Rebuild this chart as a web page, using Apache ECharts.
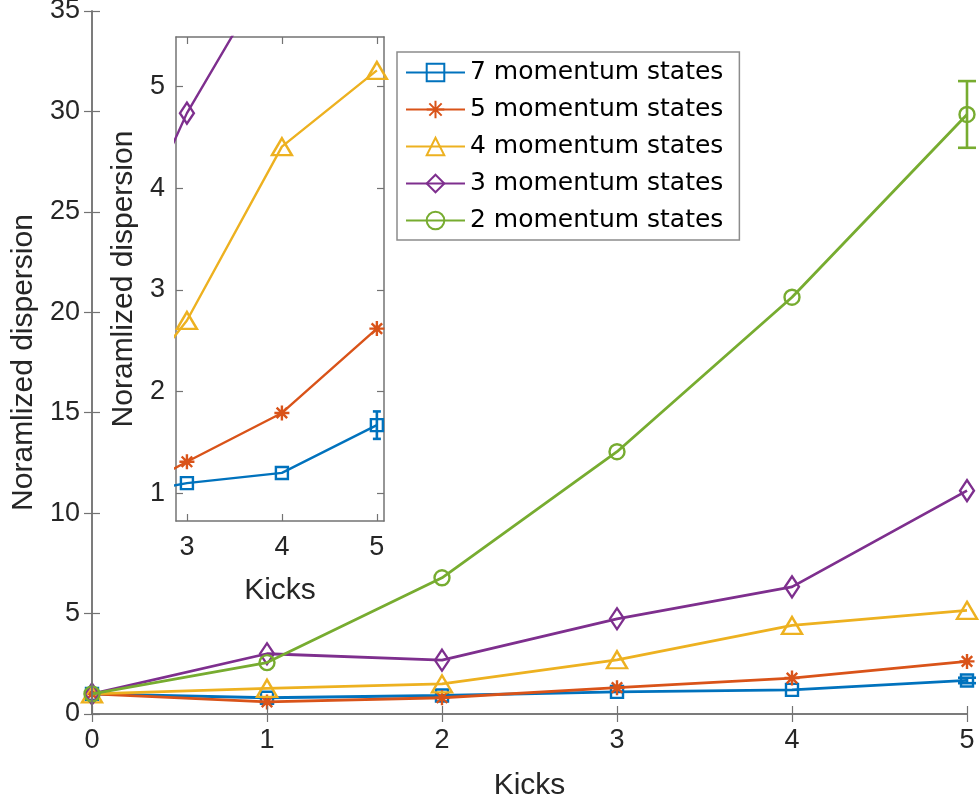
<!DOCTYPE html>
<html>
<head>
<meta charset="utf-8">
<script src="https://cdn.jsdelivr.net/npm/echarts@6/dist/echarts.min.js"></script>
<style>html,body{margin:0;padding:0;background:#fff}#c{width:979px;height:803px}</style>
</head>
<body>
<div id="c"></div>
<script>
// ---- data ----
var kicks = [0, 1, 2, 3, 4, 5];
var seriesNames = ['7 momentum states', '5 momentum states', '4 momentum states', '3 momentum states', '2 momentum states'];
var s7 = [1.0, 0.81, 0.92, 1.10, 1.20, 1.67];
var s5 = [1.0, 0.60, 0.81, 1.31, 1.79, 2.62];
var s4 = [1.0, 1.28, 1.50, 2.70, 4.41, 5.16];
var s3 = [1.0, 3.00, 2.68, 4.74, 6.33, 11.12];
var s2 = [1.0, 2.56, 6.78, 13.06, 20.75, 29.85];
var err7 = [0, 0, 0, 0, 0, 0.135];
var err2 = [0, 0, 0, 0, 0, 1.66];
var insetXTicks = [3, 4, 5];
var insetYTicks = [1, 2, 3, 4, 5];

// ---- style ----
var FONT = 'Liberation Sans';
var LFONT = 'DejaVu Sans';
var TXT = '#262626';
var AX = '#737373';
var colors = ['#0072BD', '#D95319', '#EDB120', '#7E2F8E', '#77AC30'];
var star = 'path://M10,0L10,20M0,10L20,10M3,3L17,17M3,17L17,3';
var symbols = ['rect', star, 'triangle', 'diamond', 'circle'];
var symSizes = [[12, 12], [15, 15], [20, 17], [14, 21], [15, 15]];
var allData = [s7, s5, s4, s3, s2];
var allErr = [err7, null, null, null, err2];
var TICKFS = 27, NAMEFS = 30;

function pairs(arr) { return kicks.map(function (k, i) { return [k, arr[i]]; }); }
function errPairs(arr, err) {
  var out = [];
  kicks.forEach(function (k, i) { if (err[i] > 0) out.push([k, arr[i] - err[i], arr[i] + err[i]]); });
  return out;
}

function axisCommon(extra) {
  var a = {
    axisLine: { show: true, lineStyle: { color: AX, width: 1.5 } },
    axisTick: { show: true, inside: true, length: 8, lineStyle: { color: AX, width: 1.2 } },
    splitLine: { show: false },
    axisLabel: { color: TXT, fontFamily: FONT, fontSize: TICKFS },
    nameTextStyle: { color: TXT, fontFamily: FONT, fontSize: NAMEFS }
  };
  for (var k in extra) a[k] = extra[k];
  return a;
}

var series = [];
function addSet(xi, yi, lw, z, capW) {
  allData.forEach(function (d, i) {
    series.push({
      type: 'line', name: seriesNames[i], xAxisIndex: xi, yAxisIndex: yi,
      data: pairs(d), symbol: symbols[i], symbolSize: symSizes[i],
      showSymbol: true, clip: true, z: z + i * 0.01, animation: false,
      lineStyle: { color: colors[i], width: lw },
      itemStyle: { color: 'rgba(255,255,255,0)', borderColor: colors[i], borderWidth: 2.4 },
      emphasis: { disabled: true }
    });
    if (allErr[i]) {
      (function (c, cw) {
        series.push({
          type: 'custom', xAxisIndex: xi, yAxisIndex: yi, z: z + i * 0.01 + 0.005,
          data: errPairs(d, allErr[i]), animation: false, silent: true,
          encode: { x: 0, y: [1, 2] },
          renderItem: function (params, api) {
            var lo = api.coord([api.value(0), api.value(1)]);
            var hi = api.coord([api.value(0), api.value(2)]);
            var st = { stroke: c, lineWidth: 2.6 };
            return {
              type: 'group', children: [
                { type: 'line', shape: { x1: lo[0], y1: lo[1], x2: hi[0], y2: hi[1] }, style: st },
                { type: 'line', shape: { x1: lo[0] - cw / 2, y1: lo[1], x2: lo[0] + cw / 2, y2: lo[1] }, style: st },
                { type: 'line', shape: { x1: hi[0] - cw / 2, y1: hi[1], x2: hi[0] + cw / 2, y2: hi[1] }, style: st }
              ]
            };
          }
        });
      })(colors[i], capW);
    }
  });
}
addSet(0, 0, 2.8, 3, 18);
addSet(2, 2, 2.4, 13, 8);

var option = {
  backgroundColor: '#fff',
  animation: false,
  grid: [
    { left: 92, top: 11, width: 875, height: 703, z: 0, containLabel: false, outerBoundsMode: 'none' },
    { left: 176, top: 37, width: 208, height: 484, show: true, backgroundColor: '#fff', borderWidth: 0, z: 10, containLabel: false, outerBoundsMode: 'none' }
  ],
  xAxis: [
    axisCommon({ gridIndex: 0, type: 'value', min: 0, max: 5, interval: 1, position: 'bottom',
      name: 'Kicks', nameLocation: 'middle', nameGap: 57, z: 5,
      axisLabel: { color: TXT, fontFamily: FONT, fontSize: TICKFS, margin: 13 } }),
    axisCommon({ gridIndex: 0, type: 'value', min: 0, max: 5, interval: 1, position: 'top', z: 5,
      axisLabel: { show: false } }),
    axisCommon({ gridIndex: 1, type: 'value', min: 2.885, max: 5.075, position: 'bottom',
      name: 'Kicks', nameLocation: 'middle', nameGap: 55, z: 12,
      axisTick: { show: true, inside: true, length: 7, customValues: insetXTicks, lineStyle: { color: AX, width: 1.2 } },
      axisLabel: { color: TXT, fontFamily: FONT, fontSize: TICKFS, margin: 13, customValues: insetXTicks } }),
    axisCommon({ gridIndex: 1, type: 'value', min: 2.885, max: 5.075, position: 'top', z: 12,
      axisTick: { show: true, inside: true, length: 7, customValues: insetXTicks, lineStyle: { color: AX, width: 1.2 } },
      axisLabel: { show: false } })
  ],
  yAxis: [
    axisCommon({ gridIndex: 0, type: 'value', min: 0, max: 35, interval: 5, position: 'left',
      name: 'Noramlized dispersion', nameLocation: 'middle', nameGap: 53, z: 5,
      axisLabel: { color: TXT, fontFamily: FONT, fontSize: TICKFS, margin: 12 } }),
    axisCommon({ gridIndex: 0, type: 'value', min: 0, max: 35, interval: 5, position: 'right', z: 5,
      axisLabel: { show: false } }),
    axisCommon({ gridIndex: 1, type: 'value', min: 0.727, max: 5.489, position: 'left',
      name: 'Noramlized dispersion', nameLocation: 'middle', nameGap: 37, z: 12,
      axisTick: { show: true, inside: true, length: 7, customValues: insetYTicks, lineStyle: { color: AX, width: 1.2 } },
      axisLabel: { color: TXT, fontFamily: FONT, fontSize: TICKFS, margin: 11, customValues: insetYTicks } }),
    axisCommon({ gridIndex: 1, type: 'value', min: 0.727, max: 5.489, position: 'right', z: 12,
      axisTick: { show: true, inside: true, length: 7, customValues: insetYTicks, lineStyle: { color: AX, width: 1.2 } },
      axisLabel: { show: false } })
  ],
  legend: {
    orient: 'vertical', left: 397, top: 52, z: 30,
    data: seriesNames,
    itemWidth: 59, itemHeight: 22, itemGap: 12,
    padding: [8, 16, 7, 8],
    borderColor: '#8c8c8c', borderWidth: 1.5, backgroundColor: '#fff',
    textStyle: { color: '#000', fontFamily: LFONT, fontSize: 25 },
    selectedMode: false
  },
  series: series
};
var chart = echarts.init(document.getElementById('c'), null, { renderer: 'canvas' });
chart.setOption(option);
</script>
</body>
</html>
